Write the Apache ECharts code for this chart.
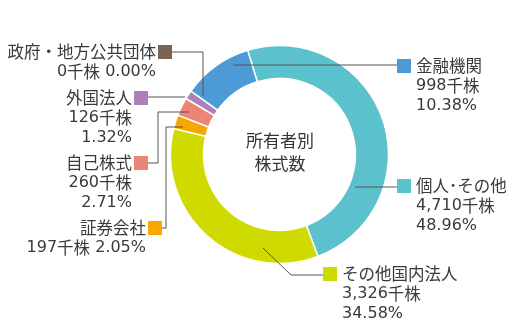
<!DOCTYPE html>
<html><head><meta charset="utf-8">
<script src="https://cdn.jsdelivr.net/npm/echarts@6/dist/echarts.min.js"></script>
<style>html,body{margin:0;padding:0;background:#fff}#c{width:520px;height:330px}</style>
</head><body><div id="c"></div>
<script>
const categories = ['個人･その他','その他国内法人','証券会社','自己株式','外国法人','政府・地方公共団体','金融機関'];
const sharesThousand = [4710, 3326, 197, 260, 126, 0, 998];
const percentLabels = ['48.96%','34.58%','2.05%','2.71%','1.32%','0.00%','10.38%'];
const colors = ['#5bc1cd','#cfdb00','#f6a800','#ee8476','#ab80bb','#7a6555','#4c9bd6'];
const centerTitle = '所有者別\n株式数';

// label placement (layout only)
const side = ['right','right','left','left','left','left','right'];
const twoLine = [false,false,true,false,false,true,false];
const labelPos = [
  {x:397,y:176,line:[[355,187],[397,187]]},
  {x:323,y:264,line:[[263,248],[291,275],[323,275]]},
  {x:162,y:218,line:[[183,127],[166,127],[166,228],[162,228]]},
  {x:148,y:153,line:[[189,112],[158,112],[158,163],[148,163]]},
  {x:148,y:88,line:[[185,97],[148,97]]},
  {x:172,y:42,line:[[203,96],[203,52],[172,52]]},
  {x:397,y:56,line:[[233,65],[397,65]]}
];

function fmt(n){return n.toString().replace(/\B(?=(\d{3})+(?!\d))/g, ',');}

const FONT = '"Noto Sans CJK JP", "Noto Sans", sans-serif';
const NUMFONT = '"DejaVu Sans ExtraLight", "DejaVu Sans", "Noto Sans CJK JP", sans-serif';
const rich = {
  n:{fontSize:16.5,lineHeight:20,color:'#3a3a3a',fontFamily:FONT},
  v:{fontSize:16,lineHeight:20,color:'#3a3a3a',fontFamily:NUMFONT},
  k:{fontSize:16.5,lineHeight:20,color:'#3a3a3a',fontFamily:FONT},
  gl:{width:19,height:14},
  gr:{width:16,height:14}
};
categories.forEach((c,i)=>{
  rich['sq'+i] = {width:14,height:14,backgroundColor:colors[i]};
  rich['sp'+i] = {width:side[i]==='right'?5:2,height:14};
});

function valueRich(i){
  return `{v|${fmt(sharesThousand[i])}}{k|千株}`;
}

const baseData = categories.map((name,i)=>({name, value: sharesThousand[i], itemStyle:{color:colors[i]}}));
const labelData = categories.map((name,i)=>{
  let t;
  if (side[i]==='right') {
    t = `{sq${i}|}{sp${i}|}{n|${name}}\n{gl|}${valueRich(i)}\n{gl|}{v|${percentLabels[i]}}`;
  } else if (twoLine[i]) {
    t = `{n|${name}}{sp${i}|}{sq${i}|}\n${valueRich(i)}{v| ${percentLabels[i]}}{gr|}`;
  } else {
    t = `{n|${name}}{sp${i}|}{sq${i}|}\n${valueRich(i)}{gr|}\n{v|${percentLabels[i]}}{gr|}`;
  }
  return {name, value: sharesThousand[i], label:{formatter:t, align: side[i]==='right'?'left':'right'}};
});

const chart = echarts.init(document.getElementById('c'), null, {renderer:'canvas'});
const common = {type:'pie', center:[279.5,154.5], radius:[76,109], startAngle:107, clockwise:true,
  avoidLabelOverlap:false, emphasis:{disabled:true}, silent:true};
chart.setOption({
  animation:false,
  backgroundColor:'#ffffff',
  graphic:[{type:'text',style:{text:centerTitle,x:280,y:152,
    textAlign:'center',textVerticalAlign:'middle',fontSize:17,lineHeight:23,
    fill:'#333',fontFamily:FONT}}],
  series:[
    Object.assign({}, common, {
      z:2,
      itemStyle:{borderColor:'#fff',borderWidth:1.5},
      label:{show:false}, labelLine:{show:false},
      data:baseData
    }),
    Object.assign({}, common, {
      z:10,
      itemStyle:{color:'rgba(0,0,0,0)',borderWidth:0},
      label:{show:true,position:'outside',rich:rich},
      labelLine:{show:true,lineStyle:{color:'#555',width:1}},
      labelLayout:function(p){
        const i = p.dataIndex; const L = labelPos[i];
        return {x:L.x,y:L.y,align:side[i]==='right'?'left':'right',verticalAlign:'top',labelLinePoints:L.line};
      },
      data:labelData
    })
  ]
});
</script></body></html>
